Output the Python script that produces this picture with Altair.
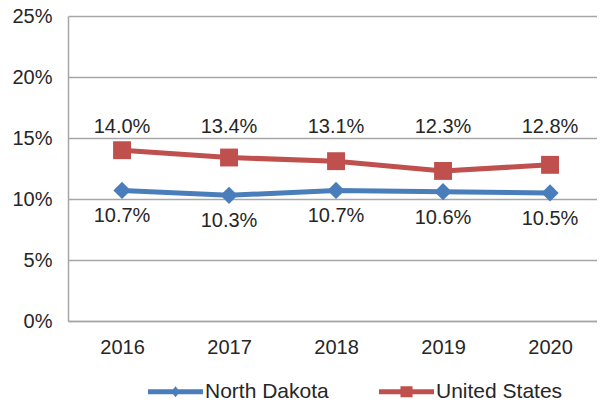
import altair as alt
import pandas as pd

years = [2016, 2017, 2018, 2019, 2020]
series_names = ["North Dakota", "United States"]
nd_values = [0.107, 0.103, 0.107, 0.106, 0.105]
us_values = [0.140, 0.134, 0.131, 0.123, 0.128]
y_ticks = [0, 0.05, 0.10, 0.15, 0.20, 0.25]
us_label_level = 0.159  # data-space height where the US labels sit

BLUE = "#4A7EBB"
RED = "#C0504D"
TEXT = "#262626"
FONT = "Liberation Sans"

rows = []
for y, v in zip(years, nd_values):
    rows.append({"year": y, "series": "North Dakota", "value": v})
for y, v in zip(years, us_values):
    rows.append({"year": y, "series": "United States", "value": v})
df = pd.DataFrame(rows)

xs = alt.Scale(domain=[2015.495, 2020.439], nice=False, zero=False)
ys = alt.Scale(domain=[0, 0.25], nice=False)

x_axis = alt.Axis(
    values=years, format="d", title=None, grid=False, ticks=False, tickSize=0,
    labelFontSize=20, labelColor=TEXT, labelFont=FONT, labelPadding=16,
    domainColor="#A6A6A6", domainWidth=1.5, labelFlush=False)
y_axis = alt.Axis(
    values=y_ticks, format=".0%", title=None, ticks=False, tickSize=0,
    labelFontSize=20, labelColor=TEXT, labelFont=FONT, labelPadding=16,
    gridColor="#A6A6A6", gridWidth=1.5, domainColor="#A6A6A6", domainWidth=1.5)
x_enc = alt.X("year:Q", scale=xs, axis=x_axis)
y_enc = alt.Y("value:Q", scale=ys, axis=y_axis)

base = alt.Chart(df)

layers = []
specs = [("North Dakota", BLUE, "diamond", 300),
         ("United States", RED, "square", 320)]
for name, col, shp, sz in specs:
    sub = base.transform_filter(alt.datum.series == name)
    layers.append(sub.mark_line(color=col, strokeWidth=5, strokeCap="round").encode(x=x_enc, y=y_enc))
    layers.append(sub.mark_point(shape=shp, filled=True, size=sz, color=col, opacity=1).encode(x=x_enc, y=y_enc))

nd_sub = base.transform_filter(alt.datum.series == "North Dakota")
layers.append(nd_sub.mark_text(dy=26, fontSize=20, font=FONT, color=TEXT).encode(
    x=x_enc, y=y_enc, text=alt.Text("value:Q", format=".1%")))
us_sub = base.transform_filter(alt.datum.series == "United States")
layers.append(us_sub.mark_text(fontSize=20, font=FONT, color=TEXT).encode(
    x=x_enc, y=alt.Y(datum=us_label_level, scale=ys, axis=y_axis),
    text=alt.Text("value:Q", format=".1%")))

nd_path = "M-1,-0.09L1,-0.09L1,0.09L-1,0.09Z M0,-0.2L0.16,0L0,0.2L-0.16,0Z"
us_path = "M-1,-0.09L1,-0.09L1,0.09L-1,0.09Z M-0.22,-0.2L0.22,-0.2L0.22,0.2L-0.22,0.2Z"

legend = alt.Legend(title=None, orient="none", legendX=80, legendY=348, direction="horizontal",
                    symbolSize=3025, symbolStrokeWidth=0, labelFontSize=21, labelFont=FONT,
                    labelColor=TEXT, labelOffset=2, columnPadding=50, padding=0)
leg_layer = base.transform_filter("false").mark_point(filled=True, opacity=1).encode(
    x=x_enc, y=y_enc,
    color=alt.Color("series:N", scale=alt.Scale(domain=series_names, range=[BLUE, RED]), legend=legend),
    shape=alt.Shape("series:N", scale=alt.Scale(domain=series_names, range=[nd_path, us_path]), legend=legend),
)
layers.append(leg_layer)

chart = alt.layer(*layers).properties(
    width=529, height=305,
    autosize=alt.AutoSizeParams(type="none"),
    padding={"left": 60, "top": 8, "right": 0, "bottom": 82},
).configure_view(stroke=None)

chart.save("out.html", embed_options={"renderer": "svg", "actions": False})
